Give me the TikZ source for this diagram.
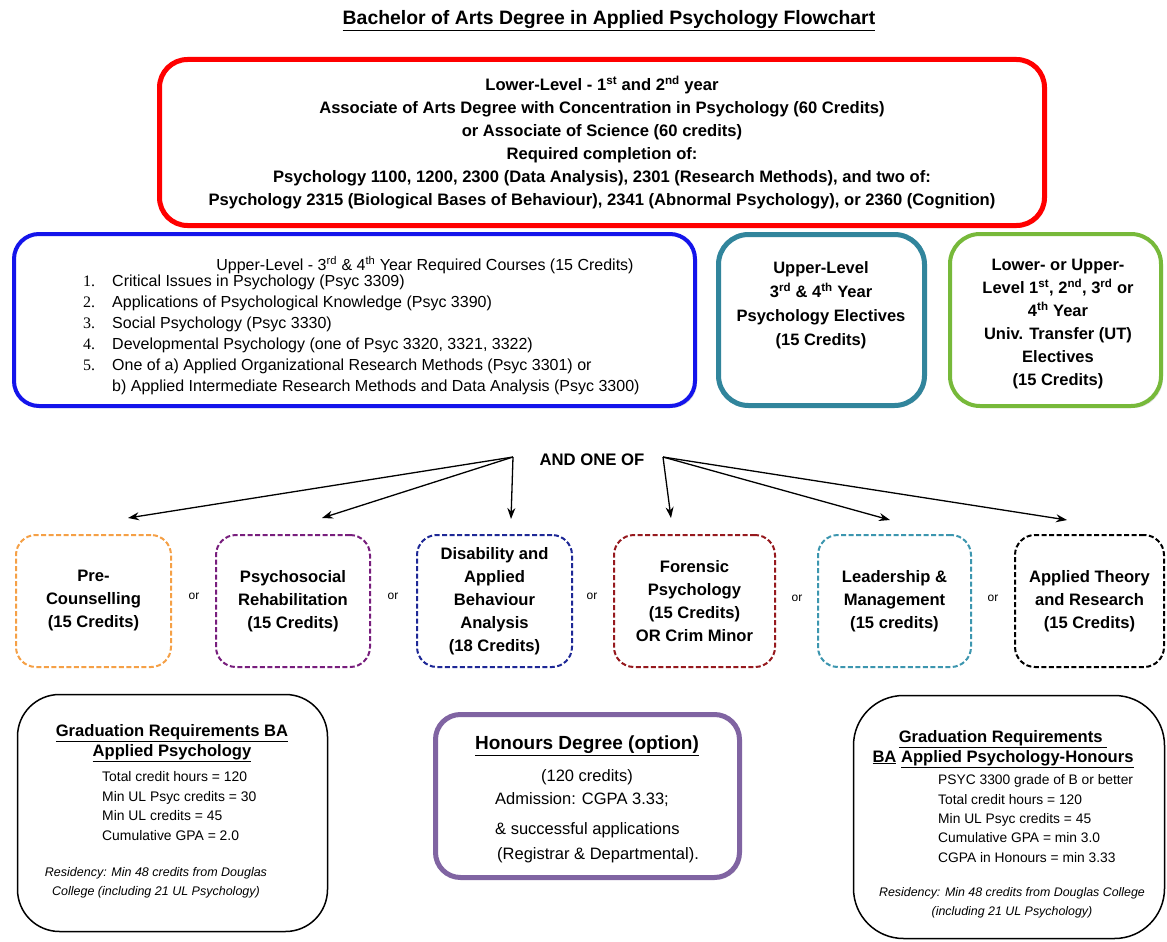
\documentclass[tikz,border=0pt]{standalone}
\usepackage{fontspec}
\setmainfont{Liberation Sans}
\newfontfamily\numserif{Liberation Serif}
\usetikzlibrary{arrows.meta,shadows}
\newcommand\myfs[2]{\fontsize{#1}{#2}\selectfont}
\newcommand\mynum[1]{\makebox[29pt][l]{\numserif #1}}
\definecolor{cred}{RGB}{255,0,0}
\definecolor{cblue}{RGB}{20,20,235}
\definecolor{cteal}{RGB}{49,133,156}
\definecolor{cgreen}{RGB}{119,185,58}
\definecolor{corange}{RGB}{245,160,70}
\definecolor{cpurple}{RGB}{120,30,125}
\definecolor{cnavy}{RGB}{30,40,150}
\definecolor{cdred}{RGB}{150,25,30}
\definecolor{ccyan}{RGB}{60,150,175}
\definecolor{chon}{RGB}{128,100,162}
\begin{document}
\begin{tikzpicture}[x=1pt,y=-1pt,
  txt/.style={inner sep=0pt},
  solidbox/.style={draw, rounded corners=#1, inner sep=0pt, fill=white,
    drop shadow={opacity=0.25, shadow xshift=2pt, shadow yshift=-2pt}},
  optbox/.style={draw, dash pattern=on 5pt off 2.5pt, line width=2pt,
    rounded corners=20pt, minimum height=132pt, align=center,
    font=\bfseries\myfs{16.6}{23}, inner sep=0pt},
  plainbox/.style={draw, line width=1.5pt, rounded corners=#1, inner sep=0pt},
  orlbl/.style={txt, font=\myfs{12}{14}},
  arr/.style={line width=1.3pt, -{Stealth[length=11pt,width=8pt]}}
]
\useasboundingbox[fill=white] (0,0) rectangle (1167,942);

% title
\node[txt, font=\bfseries\myfs{19.4}{23}] (title) at (609,21) {\underline{Bachelor of Arts Degree in Applied Psychology Flowchart}};

% lower level
\node[solidbox=28pt, draw=cred, line width=5pt, minimum width=885pt, minimum height=166pt,
  align=center, font=\bfseries\myfs{16.6}{23}] (lower) at (602,142.5)
  {Lower-Level - 1\textsuperscript{st} and 2\textsuperscript{nd} year\\
   Associate of Arts Degree with Concentration in Psychology (60 Credits)\\
   or Associate of Science (60 credits)\\
   Required completion of:\\
   Psychology 1100, 1200, 2300 (Data Analysis), 2301 (Research Methods), and two of:\\
   Psychology 2315 (Biological Bases of Behaviour), 2341 (Abnormal Psychology), or 2360 (Cognition)};

% upper level required
\node[solidbox=25pt, draw=cblue, line width=4pt, minimum width=681pt, minimum height=172pt] (upper) at (354.5,320) {};
\node[txt, font=\myfs{16}{21}] (uphead) at (425,265) {Upper-Level - 3\textsuperscript{rd} \& 4\textsuperscript{th} Year Required Courses (15 Credits)};
\node[txt, font=\myfs{16}{21}, align=left, anchor=west] (uplist) at (83,335)
  {\mynum{1.}Critical Issues in Psychology (Psyc 3309)\\
   \mynum{2.}Applications of Psychological Knowledge (Psyc 3390)\\
   \mynum{3.}Social Psychology (Psyc 3330)\\
   \mynum{4.}Developmental Psychology (one of Psyc 3320, 3321, 3322)\\
   \mynum{5.}One of a) Applied Organizational Research Methods (Psyc 3301) or\\
   \mynum{}b) Applied Intermediate Research Methods and Data Analysis (Psyc 3300)};

% electives
\node[solidbox=30pt, draw=cteal, line width=5pt, minimum width=206pt, minimum height=171pt] (ulelec) at (821.5,320) {};
\node[txt, font=\bfseries\myfs{16.5}{24}, align=center] (ulelectxt) at (821,305.5)
  {Upper-Level\\3\textsuperscript{rd} \& 4\textsuperscript{th} Year\\Psychology Electives\\(15 Credits)};
\node[solidbox=30pt, draw=cgreen, line width=4pt, minimum width=211pt, minimum height=172pt] (utelec) at (1055.5,320) {};
\node[txt, font=\bfseries\myfs{16.5}{23}, align=center] (utelectxt) at (1058,324.5)
  {Lower- or Upper-\\Level 1\textsuperscript{st}, 2\textsuperscript{nd}, 3\textsuperscript{rd} or\\4\textsuperscript{th} Year\\Univ. Transfer (UT)\\Electives\\(15 Credits)};

% and one of
\node[txt, font=\bfseries\myfs{16.7}{20}] (andone) at (592,460) {AND ONE OF};
\coordinate (aoL) at (513,457);
\coordinate (aoR) at (663,457);

% options
\node[optbox, draw=corange, minimum width=155pt] (pre) at (93.5,601) {Pre-\\Counselling\\(15 Credits)};
\node[optbox, draw=cpurple, minimum width=154pt] (psr) at (293,601) {Psychosocial\\Rehabilitation\\(15 Credits)};
\node[optbox, draw=cnavy, minimum width=155pt] (dis) at (494.5,601) {Disability and\\Applied\\Behaviour\\Analysis\\(18 Credits)};
\node[optbox, draw=cdred, minimum width=161pt] (fore) at (694.5,601) {Forensic\\Psychology\\(15 Credits)\\OR Crim Minor};
\node[optbox, draw=ccyan, minimum width=153pt] (lea) at (894.5,601) {Leadership \&\\Management\\(15 credits)};
\node[optbox, draw=black, minimum width=149pt] (apt) at (1089.5,601) {Applied Theory\\and Research\\(15 Credits)};

\node[orlbl] (or1) at (194,596) {or};
\node[orlbl] (or2) at (393,596) {or};
\node[orlbl] (or3) at (592,596) {or};
\node[orlbl] (or4) at (797,598) {or};
\node[orlbl] (or5) at (993,598) {or};

\coordinate (tpre) at (128,518);
\coordinate (tpsr) at (322,518);
\coordinate (tdis) at (511,519);
\coordinate (tfore) at (671,518);
\coordinate (tlea) at (890,520);
\coordinate (tapt) at (1067,520);
\draw[arr] (aoL) -- (tpre);
\draw[arr] (aoL) -- (tpsr);
\draw[arr] (aoL) -- (tdis);
\draw[arr] (aoR) -- (tfore);
\draw[arr] (aoR) -- (tlea);
\draw[arr] (aoR) -- (tapt);

% graduation BA
\node[plainbox=42pt, minimum width=310pt, minimum height=237pt] (grad) at (172.5,813) {};
\node[txt, font=\bfseries\myfs{16.6}{20}, align=center] (gradhead) at (172,743)
  {\underline{Graduation Requirements BA}\\\underline{Applied Psychology}};
\node[txt, font=\myfs{13.9}{19.5}, align=left, anchor=west] (gradlist) at (102,806)
  {Total credit hours = 120\\Min UL Psyc credits = 30\\Min UL credits = 45\\Cumulative GPA = 2.0};
\node[txt, font=\itshape\myfs{12.5}{19}, align=center] (gradres) at (156,882.5)
  {Residency: Min 48 credits from Douglas\\College (including 21 UL Psychology)};

% honours
\node[solidbox=25pt, draw=chon, line width=5pt, minimum width=304pt, minimum height=163pt] (hon) at (587.5,796) {};
\node[txt, font=\bfseries\myfs{19}{22}] (honhead) at (587,746) {\underline{Honours Degree (option)}};
\node[txt, font=\myfs{16.5}{20}] (hon1) at (587,777) {(120 credits)};
\node[txt, font=\myfs{16.5}{20}, anchor=west] (hon2) at (495,800) {Admission: CGPA 3.33;};
\node[txt, font=\myfs{16.5}{20}, anchor=west] (hon3) at (495,830) {\& successful applications};
\node[txt, font=\myfs{16.5}{20}, anchor=west] (hon4) at (497,855) {(Registrar \& Departmental).};

% graduation honours
\node[plainbox=50pt, minimum width=311pt, minimum height=243pt] (gradh) at (1009,817) {};
\node[txt, font=\bfseries\myfs{16.6}{20}, align=center] (gradhhead) at (1003,749)
  {\underline{Graduation Requirements\ }\\\underline{BA} \underline{Applied Psychology-Honours}};
\node[txt, font=\myfs{13.8}{19.3}, align=left, anchor=west] (gradhlist) at (938,818.5)
  {PSYC 3300 grade of B or better\\Total credit hours = 120\\Min UL Psyc credits = 45\\Cumulative GPA = min 3.0\\CGPA in Honours = min 3.33};
\node[txt, font=\itshape\myfs{12.4}{19}, align=center] (gradhres) at (1012,902.5)
  {Residency: Min 48 credits from Douglas College\\(including 21 UL Psychology)};
\end{tikzpicture}
\end{document}
